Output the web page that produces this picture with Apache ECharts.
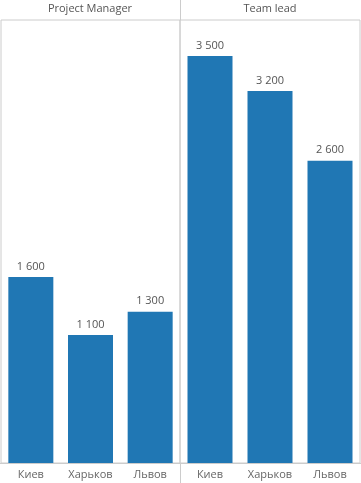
<!DOCTYPE html>
<html><head><meta charset="utf-8">
<script src="https://cdn.jsdelivr.net/npm/echarts@6/dist/echarts.min.js"></script>
<style>html,body{margin:0;padding:0;background:#fff}#c{width:361px;height:483px}</style>
</head><body><div id="c"></div>
<script>
const panels = ["Project Manager", "Team lead"];
const cities = ["Киев", "Харьков", "Львов"];
const pmValues = [1600, 1100, 1300];
const tlValues = [3500, 3200, 2600];

const chart = echarts.init(document.getElementById('c'), null, {renderer: 'canvas'});
const font = "'Open Sans', sans-serif";
const fmt = v => String(v).replace(/\B(?=(\d{3})+(?!\d))/g, ' ');
const lineColor = '#cccccc';
const grids = [
  {left: 1, top: 20, width: 179, height: 443},
  {left: 180, top: 20, width: 180, height: 443}
];
const valuesList = [pmValues, tlValues];
chart.setOption({
  animation: false,
  title: panels.map((t, i) => ({
    text: t, left: i === 0 ? 90 : 270, top: 3, textAlign: 'center', padding: 0,
    textStyle: {fontFamily: font, fontSize: 11, fontWeight: 'normal', color: '#555'}
  })),
  grid: grids.map(g => Object.assign({show: true, borderColor: lineColor, borderWidth: 1, backgroundColor: 'transparent'}, g)),
  xAxis: grids.map((g, i) => ({
    type: 'category', gridIndex: i, data: cities,
    axisLine: {show: true, lineStyle: {color: lineColor}},
    axisTick: {show: false},
    axisLabel: {fontFamily: font, fontSize: 11, color: '#666', margin: 6}
  })),
  yAxis: grids.map((g, i) => ({
    type: 'value', gridIndex: i, min: 0, max: 3810, show: false, splitLine: {show: false}
  })),
  series: valuesList.map((vals, i) => ({
    type: 'bar', xAxisIndex: i, yAxisIndex: i, data: vals, barWidth: 45,
    itemStyle: {color: '#2077b4'},
    label: {show: true, position: 'top', distance: 5, formatter: p => fmt(p.value),
      fontFamily: font, fontSize: 11, color: '#555'}
  })),
  graphic: [
    {type: 'line', shape: {x1: 180.5, y1: 0, x2: 180.5, y2: 20}, style: {stroke: lineColor, lineWidth: 1}},
    {type: 'line', shape: {x1: 180.5, y1: 463, x2: 180.5, y2: 483}, style: {stroke: lineColor, lineWidth: 1}},
    {type: 'line', shape: {x1: 0, y1: 463.5, x2: 361, y2: 463.5}, style: {stroke: lineColor, lineWidth: 1}}
  ]
});
</script></body></html>
